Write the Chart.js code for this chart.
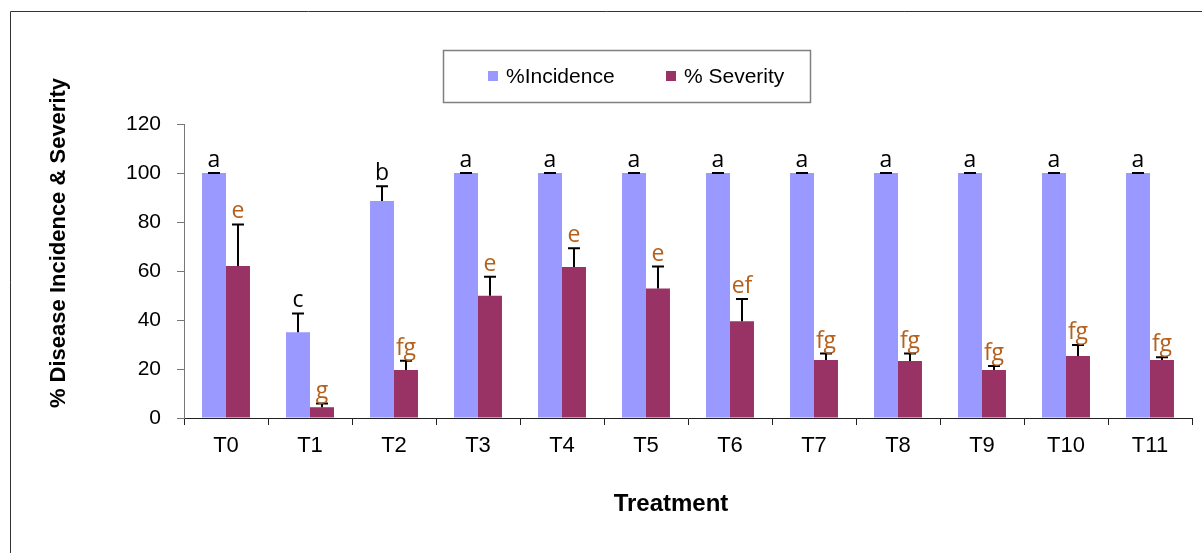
<!DOCTYPE html>
<html>
<head>
<meta charset="utf-8">
<script src="https://cdn.jsdelivr.net/npm/chart.js@4.4.0/dist/chart.umd.min.js"></script>
<style>
  html, body { margin: 0; padding: 0; background: #fff; }
  #wrap { width: 1202px; height: 553px; }
</style>
</head>
<body>
<div id="wrap"><canvas id="diseaseChart" width="1202" height="553"></canvas></div>
<script>
// data
const treatments = ["T0", "T1", "T2", "T3", "T4", "T5", "T6", "T7", "T8", "T9", "T10", "T11"];
const incidence = [100, 35, 88.6, 100, 100, 100, 100, 100, 100, 100, 100, 100];
const incidenceErr = [0, 7.7, 6, 0, 0, 0, 0, 0, 0, 0, 0, 0];
const incidenceLetters = ["a", "c", "b", "a", "a", "a", "a", "a", "a", "a", "a", "a"];
const severity = [62, 4.4, 19.6, 49.9, 61.6, 52.9, 39.5, 23.7, 23.3, 19.6, 25.3, 23.7];
const severityErr = [17, 1.5, 3.8, 7.8, 7.7, 8.9, 9.1, 2.6, 3, 1.6, 4.5, 1.1];
const severityLetters = ["e", "g", "fg", "e", "e", "e", "ef", "fg", "fg", "fg", "fg", "fg"];
const yTicks = [0, 20, 40, 60, 80, 100, 120];
const xTitle = "Treatment";
const yTitle = "% Disease Incidence & Severity";

const FONT = "Arial, 'Liberation Sans', sans-serif";
const errors = [incidenceErr, severityErr];
const letters = [incidenceLetters, severityLetters];
const letterColors = ["#000000", "#B5601C"];

// frame, axis titles, legend box, error bars and significance letters
const extras = {
  id: "extras",
  beforeDraw(chart) {
    const ctx = chart.ctx;
    ctx.save();
    ctx.fillStyle = "#fff";
    ctx.fillRect(0, 0, chart.width, chart.height);
    ctx.strokeStyle = "#333";
    ctx.lineWidth = 1;
    ctx.beginPath();
    ctx.moveTo(10.5, chart.height);
    ctx.lineTo(10.5, 11.5);
    ctx.lineTo(chart.width, 11.5);
    ctx.stroke();
    ctx.restore();
  },
  afterDatasetsDraw(chart) {
    const ctx = chart.ctx;
    const y = chart.scales.y;
    ctx.save();
    chart.data.datasets.forEach((ds, d) => {
      const meta = chart.getDatasetMeta(d);
      meta.data.forEach((bar, i) => {
        const top = y.getPixelForValue(ds.data[i] + errors[d][i]);
        ctx.strokeStyle = "#000";
        ctx.lineWidth = 2;
        ctx.beginPath();
        ctx.moveTo(bar.x, bar.y);
        ctx.lineTo(bar.x, top);
        ctx.moveTo(bar.x - 6, top);
        ctx.lineTo(bar.x + 6, top);
        ctx.stroke();
        ctx.fillStyle = letterColors[d];
        ctx.font = "23px 'Open Sans', sans-serif";
        ctx.textAlign = "center";
        ctx.textBaseline = "alphabetic";
        ctx.fillText(letters[d][i], bar.x, top - 6);
      });
    });
    ctx.restore();
  },
  afterDraw(chart) {
    const ctx = chart.ctx;
    ctx.save();
    // legend
    ctx.strokeStyle = "#808080";
    ctx.lineWidth = 1.5;
    ctx.strokeRect(443.5, 50.5, 367, 52);
    const items = [[488, 506], [666, 684]];
    ctx.font = "21px " + FONT;
    ctx.textBaseline = "middle";
    ctx.textAlign = "left";
    chart.data.datasets.forEach((ds, d) => {
      ctx.fillStyle = ds.backgroundColor;
      ctx.fillRect(items[d][0], 71, 10, 10);
      ctx.fillStyle = "#000";
      ctx.fillText(ds.label, items[d][1], 77);
    });
    // axis titles
    ctx.fillStyle = "#000";
    ctx.textAlign = "center";
    ctx.font = "bold 24px " + FONT;
    ctx.fillText(xTitle, 671, 504);
    ctx.translate(59, 243);
    ctx.rotate(-Math.PI / 2);
    ctx.font = "bold 22px " + FONT;
    ctx.fillText(yTitle, 0, 0);
    ctx.restore();
  }
};

new Chart(document.getElementById("diseaseChart").getContext("2d"), {
  type: "bar",
  data: {
    labels: treatments,
    datasets: [
      { label: "%Incidence", data: incidence, backgroundColor: "#9999FF" },
      { label: "% Severity", data: severity, backgroundColor: "#993366" }
    ]
  },
  options: {
    responsive: false,
    animation: false,
    devicePixelRatio: 1,
    categoryPercentage: 0.571,
    barPercentage: 1,
    layout: { padding: { top: 124, right: 10, left: 0, bottom: 0 } },
    plugins: {
      legend: { display: false },
      tooltip: { enabled: false }
    },
    scales: {
      x: {
        afterFit: (s) => { s.height = 135; },
        grid: { offset: true, drawOnChartArea: false, tickLength: 7, color: "#222" },
        border: { color: "#222", width: 1 },
        ticks: { color: "#000", font: { family: FONT, size: 22 }, padding: 8 }
      },
      y: {
        min: 0, max: 120,
        afterFit: (s) => { s.width = 184; },
        afterBuildTicks: (s) => { s.ticks = yTicks.map(v => ({ value: v })); },
        grid: { drawOnChartArea: false, tickLength: 7, color: "#777" },
        border: { color: "#777", width: 1 },
        ticks: { color: "#000", font: { family: FONT, size: 21 }, padding: 16 }
      }
    }
  },
  plugins: [extras]
});
</script>
</body>
</html>
